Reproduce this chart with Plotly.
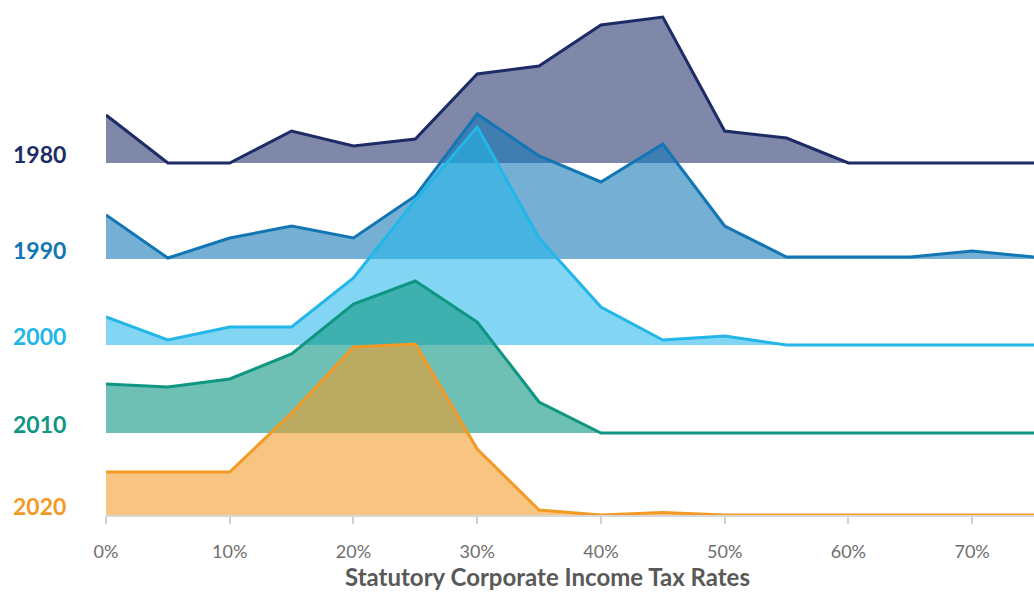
import plotly.graph_objects as go

# Data (heights, arbitrary density units)
rates = [0, 5, 10, 15, 20, 25, 30, 35, 40, 45, 50, 55, 60, 65, 70, 75]
years = ["1980", "1990", "2000", "2010", "2020"]
vals_1980 = [48, 0, 0, 32, 17, 24, 89, 97, 138, 146, 32, 25, 0, 0, 0, 0]
vals_1990 = [44, 1, 21, 33, 21, 63, 145, 103, 77, 115, 33, 2, 2, 2, 8, 2]
vals_2000 = [28, 5, 18, 18, 67, 145, 218, 107, 38, 5, 9, 0, 0, 0, 0, 0]
vals_2010 = [49, 46, 54, 79, 129, 152, 111, 31, 0, 0, 0, 0, 0, 0, 0, 0]
vals_2020 = [43, 43, 43, 102, 168, 171, 66, 5, 0, 2.5, 0, 0, 0, 0, 0, 0]
baselines = [352, 256, 170, 82, 0]
tick_vals = [0, 10, 20, 30, 40, 50, 60, 70]
tick_text = ["0%", "10%", "20%", "30%", "40%", "50%", "60%", "70%"]
x_title = "Statutory Corporate Income Tax Rates"

series = [vals_1980, vals_1990, vals_2000, vals_2010, vals_2020]
line_colors = ["#1d2b66", "#1276b5", "#22b6e9", "#0f9682", "#f39a26"]
fill_colors = ["rgba(29,43,102,0.56)", "rgba(18,118,181,0.58)",
               "rgba(34,182,233,0.56)", "rgba(15,150,130,0.60)",
               "rgba(243,154,38,0.58)"]

fig = go.Figure()
for yr, vals, base, lc, fc in zip(years, series, baselines, line_colors, fill_colors):
    fig.add_trace(go.Scatter(x=rates, y=[base] * len(rates), mode="lines",
                             line=dict(width=0, color=fc), showlegend=False,
                             hoverinfo="skip"))
    fig.add_trace(go.Scatter(x=rates, y=[base + v for v in vals], mode="lines",
                             line=dict(width=3, color=lc), fill="tonexty",
                             fillcolor=fc, name=yr, showlegend=False))
    fig.add_annotation(xref="paper", x=0, xshift=-38, xanchor="right",
                       yref="y", y=base, yanchor="bottom", yshift=-7,
                       text="<b>" + yr + "</b>", showarrow=False,
                       font=dict(family="Lato", size=23, color=lc))

# x-axis title (slightly left of the plot centre, as in the reference)
fig.add_annotation(xref="paper", x=0.476, xanchor="center",
                   yref="paper", y=0, yanchor="middle", yshift=-61,
                   borderpad=0,
                   text="<b>" + x_title + "</b>", showarrow=False,
                   font=dict(family="Lato", size=24, color="#595959"))

fig.update_layout(
    width=1034, height=592,
    margin=dict(l=106, r=0, t=10, b=77),
    paper_bgcolor="white", plot_bgcolor="white",
    font=dict(family="Lato"),
    xaxis=dict(range=[0, 75], tickvals=tick_vals, ticktext=tick_text,
               ticks="outside", ticklen=7, tickwidth=1.5, tickcolor="#d0d0d0",
               showline=True, linecolor="#d8d8d8", linewidth=2,
               showgrid=False, zeroline=False, layer="below traces",
               tickfont=dict(family="Lato", size=18, color="#6e6e6e"),
               ticklabelstandoff=12),
    xaxis2=dict(range=[0, 75], overlaying="x", anchor="y", side="bottom",
                tickvals=tick_vals, showticklabels=False, ticks="inside",
                ticklen=6, tickwidth=1.5, tickcolor="#d0d0d0",
                showline=False, showgrid=False, zeroline=False,
                layer="below traces"),
    yaxis=dict(range=[0, 505], visible=False, showgrid=False, zeroline=False),
)

fig.write_html("out.html", config={"displayModeBar": False},
               post_script="document.body.style.margin='0';document.body.style.overflow='hidden';")
